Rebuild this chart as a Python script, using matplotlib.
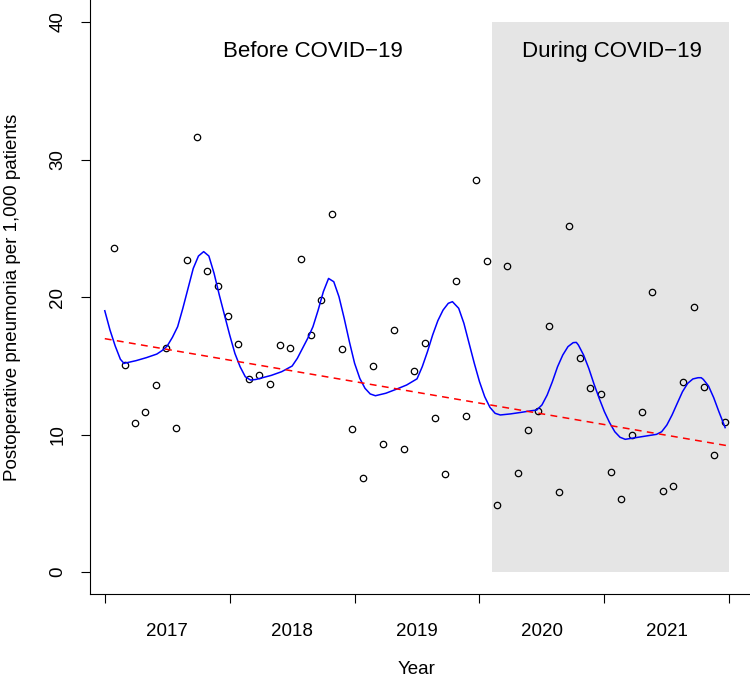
import numpy as np
import matplotlib
matplotlib.use("Agg")
import matplotlib.pyplot as plt
from matplotlib.patches import Rectangle

plt.rcParams['font.family'] = ['Liberation Sans', 'DejaVu Sans']

# ---- data ----
years = ["2017", "2018", "2019", "2020", "2021"]
month = np.arange(1, 61)  # monthly observations Jan 2017 .. Dec 2021
# position of each monthly observation on the time axis (months since Jan 2017)
obs_t = np.linspace(0.92, 59.55, len(month))
rate = [23.54, 15.05, 10.86, 11.66, 13.60, 16.27, 10.45, 22.69, 31.66, 21.89,
        20.80, 18.62, 16.60, 14.01, 14.33, 13.67, 16.51, 16.32, 22.79, 17.24,
        19.76, 26.01, 16.22, 10.38, 6.81, 14.96, 9.33, 17.58, 8.95, 14.64,
        16.63, 11.18, 7.10, 21.16, 11.37, 28.53, 22.62, 4.90, 22.25, 7.22,
        10.33, 11.71, 17.92, 5.79, 25.19, 15.54, 13.36, 12.92, 7.25, 5.30,
        9.99, 11.66, 20.34, 5.92, 6.25, 13.79, 19.27, 13.48, 8.51, 10.93]

# fitted seasonal model (blue curve)
fit_month = [0, 0.5, 1, 1.5, 1.85, 2, 3, 4, 5, 5.5, 6, 6.5, 7, 7.5, 8, 8.5, 9, 9.5,
             10, 10.5, 11, 11.5, 12, 12.5, 13, 13.5, 14, 14.5, 15, 16, 17, 18,
             18.5, 19, 19.5, 20, 20.5, 21, 21.5, 22, 22.5, 23, 23.5, 24, 24.5,
             25, 25.5, 26, 27, 28, 29, 30, 30.5, 31, 31.5, 32, 32.5, 33, 33.4,
             34, 34.5, 35, 35.5, 36, 36.5, 37, 37.5, 38, 39, 40, 41, 41.5, 42,
             42.5, 43, 43.5, 44, 44.5, 45, 45.3, 45.5, 46, 46.5, 47, 47.5, 48,
             48.5, 49, 49.5, 50, 51, 52, 53, 53.5, 54, 54.5, 55, 55.5, 56, 56.5,
             57, 57.3, 57.5, 58, 58.5, 59, 59.6]
fit_rate = [19.0, 17.6, 16.44, 15.47, 15.17, 15.2, 15.37, 15.59, 15.85, 16.1,
            16.44, 17.07, 17.84, 19.18, 20.63, 22.08, 22.98, 23.3,
            22.98, 21.72, 20.15, 18.69, 17.24, 15.9, 14.93, 14.2, 13.96, 14.0,
            14.1, 14.3, 14.57, 14.98,
            15.54, 16.27, 17.0, 17.84, 19.05, 20.39, 21.35, 21.11, 20.02, 18.45,
            16.75, 15.18, 14.08, 13.36, 12.95, 12.82, 13.0, 13.29, 13.6, 14.05,
            14.93, 16.02, 17.24, 18.28, 19.05, 19.54, 19.66,
            19.18, 18.09, 16.63, 15.18, 13.84, 12.75, 11.98, 11.54, 11.42, 11.5,
            11.61, 11.73, 11.78, 12.15, 12.87, 13.84, 14.93, 15.78, 16.39, 16.68,
            16.7, 16.51, 15.78, 14.81, 13.67, 12.63, 11.66, 10.86, 10.2, 9.8,
            9.65, 9.77, 9.89, 10.01, 10.2, 10.69, 11.42, 12.27, 13.11, 13.72,
            14.04, 14.13, 14.13, 14.01, 13.53, 12.68, 11.66, 10.5]

# linear trend (red dashed), end points
trend_month = [0, 59.7]
trend_rate = [16.97, 9.2]

covid_start = 37.2   # start of COVID-19 period (months since Jan 2017)
covid_end = 60
year_edges = [0, 12, 24, 36, 48, 60]
year_centres = [6, 18, 30, 42, 54]

# ---- figure ----
fig = plt.figure(figsize=(7.5, 6.85), dpi=100)
ax = fig.add_axes([90 / 750, 91 / 685, 659.5 / 750, 594 / 685])
ax.set_xlim(-1.42, 61.94)
ax.set_ylim(-1.6, 41.6)

ax.add_patch(Rectangle((covid_start, 0), covid_end - covid_start, 40,
                       facecolor="#E5E5E5", edgecolor="none", zorder=0))

ax.plot(obs_t, rate, linestyle="none", marker="o", markersize=4.6,
        markerfacecolor="none", markeredgecolor="black", markeredgewidth=0.9,
        zorder=3)
ax.plot(fit_month, fit_rate, color="#0000FF", lw=1.1, zorder=4,
        solid_joinstyle="round")
ax.plot(trend_month, trend_rate, color="#FF0000", lw=1.1,
        dashes=(4.5, 3.5), zorder=4)

ax.text(20, 37.45, "Before COVID\u221219", fontsize=16, ha="center",
        va="baseline")
ax.text(48.7, 37.45, "During COVID\u221219", fontsize=16, ha="center",
        va="baseline")

for side in ["top", "right"]:
    ax.spines[side].set_visible(False)
for side in ["left", "bottom"]:
    ax.spines[side].set_linewidth(0.8)
    ax.spines[side].set_color("black")

ax.set_xticks(year_edges)
ax.set_xticklabels([])
ax.set_xticks(year_centres, minor=True)
ax.set_xticklabels(years, minor=True, fontsize=13.5)
ax.tick_params(axis="x", which="major", direction="out", length=6.5,
               width=0.8, color="black")
ax.tick_params(axis="x", which="minor", length=0, pad=21)

ax.set_yticks([0, 10, 20, 30, 40])
ax.set_yticklabels(["0", "10", "20", "30", "40"], rotation=90, va="center",
                   fontsize=13.5)
ax.tick_params(axis="y", direction="out", length=6.5, width=0.8,
               color="black", pad=10.5)

fig.text(13 / 750, 1 - 297 / 685, "Postoperative pneumonia per 1,000 patients",
         rotation=90, ha="center", va="center", fontsize=13.5)
fig.text(417 / 750, 1 - 670 / 685, "Year", ha="center", va="center",
         fontsize=13.5)

fig.savefig("out.png", dpi=100)
